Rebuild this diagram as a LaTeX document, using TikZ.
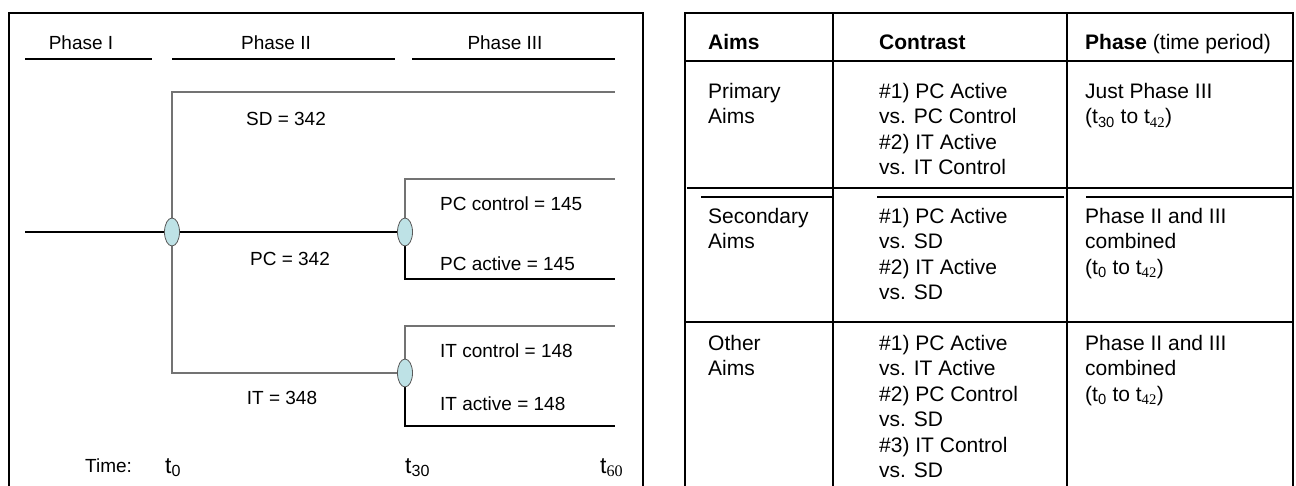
\documentclass[tikz,border=0pt]{standalone}
\usepackage{fontspec}
\setmainfont{Liberation Sans}
\newfontfamily\subserif{Liberation Serif}
\usepackage{tikz}
\usetikzlibrary{shapes.geometric}
\usetikzlibrary{backgrounds}
\definecolor{splitfill}{RGB}{190,226,230}
\colorlet{splitdraw}{black!65}
\colorlet{twigcolor}{black!55}
\newcommand\lbl{\fontsize{19}{22}\selectfont}
\newcommand\cell{\fontsize{21}{25.5}\selectfont}
\newcommand\cellstrut{\rule{0pt}{17pt}}
\newcommand\tsub[1]{t\textsubscript{#1}}
\newcommand\tsubs[1]{t\textsubscript{\subserif #1}}
\tikzstyle{frame}=[line width=1.6pt]
\tikzstyle{phaseline}=[line width=2.2pt]
\tikzstyle{trunk}=[line width=1.2pt]
\tikzstyle{twig}=[line width=1.2pt,twigcolor]
\tikzstyle{split}=[ellipse,draw=splitdraw,fill=splitfill,line width=.8pt,inner sep=0pt,minimum width=15pt,minimum height=28pt]
\tikzstyle{lab}=[inner sep=0pt,anchor=base,font=\lbl]
\tikzstyle{labw}=[lab,anchor=base west]
\tikzstyle{tick}=[inner sep=0pt,anchor=base west,font=\fontsize{23}{26}\selectfont]
\tikzstyle{rule}=[line width=1.6pt]
\tikzstyle{headbox}=[inner sep=0pt,anchor=base west,font=\cell]
\tikzstyle{cellbox}=[inner sep=0pt,anchor=north west,align=left,font=\cell,execute at begin node=\cellstrut]

\begin{document}
\begin{tikzpicture}[x=1pt,y=-1pt]
  \useasboundingbox (0,0) rectangle (1296,485);
  % ---- left panel: the three phases and the split of the groups
  \draw[frame] (9,13) rectangle (643,495);
  \node[lab] (ph1) at (81,49)  {Phase I};
  \node[lab] (ph2) at (276,49) {Phase II};
  \node[lab] (ph3) at (505,49) {Phase III};
  \draw[phaseline] (25,59) -- (152,59);
  \draw[phaseline] (172,59) -- (395,59);
  \draw[phaseline] (412,59) -- (615,59);
  \node[split] (s0)  at (172,232) {};
  \node[split] (spc) at (405,232) {};
  \node[split] (sit) at (405,373) {};
  \coordinate (in)  at (25,232);
  \coordinate (sd)  at (615,92);
  \coordinate (pcc) at (615,179);
  \coordinate (pca) at (615,279);
  \coordinate (itc) at (615,326);
  \coordinate (ita) at (615,426);
  \begin{scope}[on background layer]
    \draw[trunk] (in) -- (s0.center) -- (spc.center);
    \draw[twig]  (s0.center) |- (sd);
    \draw[twig]  (s0.center) |- (sit.center);
    \draw[twig]  (spc.center) |- (pcc);
    \draw[trunk] (spc.center) |- (pca);
    \draw[twig]  (sit.center) |- (itc);
    \draw[trunk] (sit.center) |- (ita);
  \end{scope}
  \node[lab]  (nsd) at (286,125) {SD = 342};
  \node[lab]  (npc) at (290,265) {PC = 342};
  \node[lab]  (nit) at (282,404) {IT = 348};
  \node[labw] (npcc) at (440,210) {PC control = 145};
  \node[labw] (npca) at (440,270) {PC active = 145};
  \node[labw] (nitc) at (440,357) {IT control = 148};
  \node[labw] (nita) at (440,410) {IT active = 148};
  \node[labw] (time) at (85,472) {Time:};
  \node[tick] (t0)  at (165,473) {\tsub{0}};
  \node[tick] (t30) at (405,473) {\tsub{30}};
  \node[tick] (t60) at (600,473) {\tsubs{60}};
  % ---- right panel: table of aims
  \draw[rule] (685,13) rectangle (1293,495);
  \draw[rule] (833,13) -- (833,495);
  \draw[rule] (1067,13) -- (1067,495);
  \draw[rule] (685,61) -- (1293,61);
  \draw[line width=1.2pt] (687,188) -- (1293,188);
  \draw[line width=1.2pt] (701,197) -- (832,197) (877,197) -- (1064,197) (1086,197) -- (1293,197);
  \draw[rule] (685,322) -- (1293,322);
  \node[headbox] (hA) at (708,49)  {\textbf{Aims}};
  \node[headbox] (hC) at (879,49)  {\textbf{Contrast}};
  \node[headbox] (hP) at (1085,49) {\textbf{Phase} (time period)};
  \node[cellbox] (a1) at (708,83)  {Primary\\Aims};
  \node[cellbox] (c1) at (879,83)  {\#1) PC Active\\vs. PC Control\\\#2) IT Active\\vs. IT Control};
  \node[cellbox] (p1) at (1085,83) {Just Phase III\\(\tsub{30} to \tsubs{42})};
  \node[cellbox] (a2) at (708,208)  {Secondary\\Aims};
  \node[cellbox] (c2) at (879,208)  {\#1) PC Active\\vs. SD\\\#2) IT Active\\vs. SD};
  \node[cellbox] (p2) at (1085,208) {Phase II and III\\combined\\(\tsub{0} to \tsubs{42})};
  \node[cellbox] (a3) at (708,335)  {Other\\Aims};
  \node[cellbox] (c3) at (879,335)  {\#1) PC Active\\vs. IT Active\\\#2) PC Control\\vs. SD\\\#3) IT Control\\vs. SD};
  \node[cellbox] (p3) at (1085,335) {Phase II and III\\combined\\(\tsub{0} to \tsubs{42})};
\end{tikzpicture}
\end{document}
